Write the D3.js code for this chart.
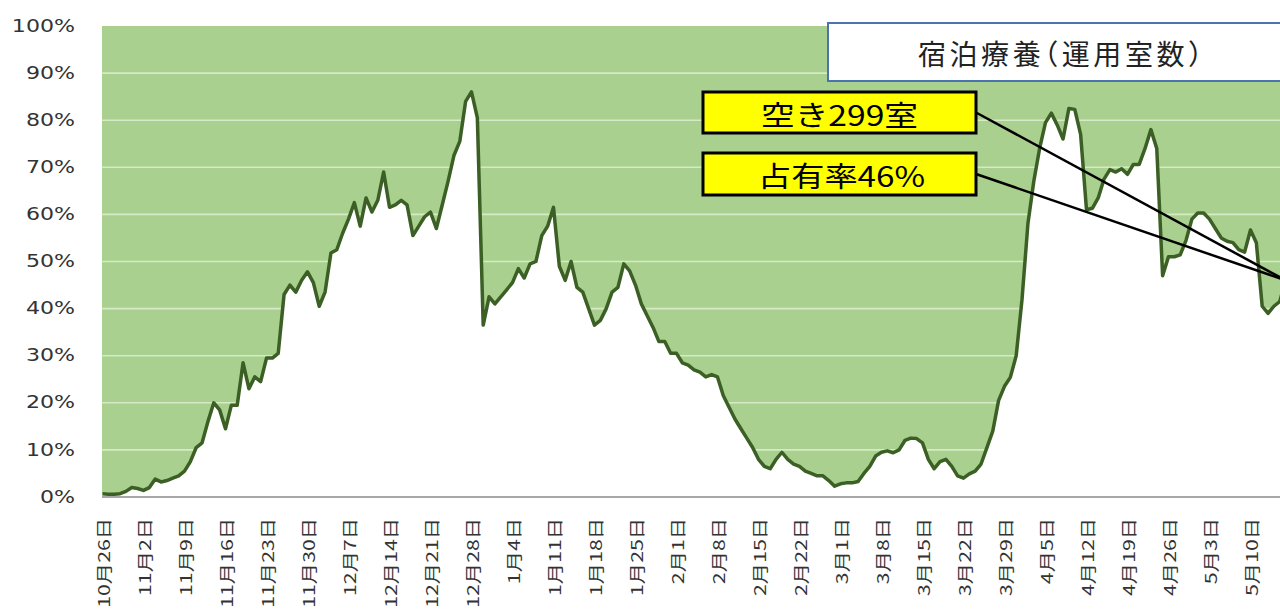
<!DOCTYPE html>
<html>
<head>
<meta charset="utf-8">
<script src="https://cdn.jsdelivr.net/npm/d3@7"></script>
<style>
body { margin:0; background:#fff; }
svg { display:block; }
</style>
</head>
<body>
<div id="drawing"></div>
<script>
"use strict"

/**** CONFIGURATION ****/

let svgWidth = 1280
let svgHeight = 615

let plotLeft = 102
let plotTop = 26
let plotBottom = 497
let dayWidth = 5.857


/**** DATA ****/

// daily occupancy (%) starting 2020-10-26
let startDate = new Date(2020, 9, 26)

let occupancy = [
0.7, 0.6, 0.6, 0.7, 1.2, 2.0, 1.8, 1.4, 2.0, 3.8,
3.2, 3.5, 4.0, 4.5, 5.5, 7.5, 10.5, 11.5, 16, 20,
18.5, 14.5, 19.5, 19.5, 28.5, 23, 25.5, 24.5, 29.5, 29.5,
30.5, 43, 45, 43.5, 46, 47.8, 45.5, 40.5, 43.5, 51.8,
52.5, 56, 59, 62.5, 57.5, 63.5, 60.5, 63, 69, 61.5,
62, 63, 62, 55.5, 57.5, 59.5, 60.5, 57, 62, 67,
72.5, 75.5, 84, 86, 80.5, 36.5, 42.5, 41, 42.5, 44,
45.5, 48.5, 46.5, 49.5, 50, 55.5, 57.5, 61.5, 49, 46,
50, 44.5, 43.5, 40, 36.5, 37.5, 40, 43.5, 44.5, 49.5,
48, 45, 41, 38.5, 36, 33, 33, 30.5, 30.5, 28.5,
28, 27, 26.5, 25.5, 26, 25.5, 21.5, 19, 16.5, 14.5,
12.5, 10.5, 8, 6.5, 6, 8, 9.5, 8, 7, 6.5,
5.5, 5, 4.5, 4.5, 3.5, 2.3, 2.8, 3, 3, 3.3,
5, 6.5, 8.7, 9.5, 9.8, 9.4, 10, 12, 12.5, 12.4,
11.5, 8, 6, 7.5, 8, 6.5, 4.5, 4, 4.9, 5.5,
7, 10.5, 14, 20.5, 23.5, 25.4, 30, 42, 58, 67,
74, 79.5, 81.5, 79, 76, 82.5, 82.3, 77, 61, 61.3,
63.5, 67.5, 69.5, 69, 69.7, 68.5, 70.6, 70.6, 74, 78,
74, 47, 51, 51, 51.4, 54.5, 59, 60.3, 60.3, 59,
57, 55, 54.3, 54, 52.5, 52, 56.7, 54, 40.5, 39,
40.5, 41.5, 46
]

let xTickLabels = [
"10月26日","11月2日","11月9日","11月16日","11月23日","11月30日",
"12月7日","12月14日","12月21日","12月28日","1月4日","1月11日",
"1月18日","1月25日","2月1日","2月8日","2月15日","2月22日",
"3月1日","3月8日","3月15日","3月22日","3月29日","4月5日",
"4月12日","4月19日","4月26日","5月3日","5月10日"
]

let yTicks = [0,10,20,30,40,50,60,70,80,90,100]

let titleText = "宿泊療養（運用室数）"
let vacantText = "空き299室"
let rateText = "占有率46%"

let dataset = occupancy.map(function(v,i){
return {date:d3.timeDay.offset(startDate,i), value:v}
})


/**** CANVAS SETUP ****/

let svg = d3.select("#drawing")
.append("svg")
.attr("width",svgWidth)
.attr("height",svgHeight)


/**** SCALES ****/

let lastDate = dataset[dataset.length-1].date

let xScale = d3.scaleTime()
.domain([startDate,lastDate])
.range([plotLeft+0.5, plotLeft+0.5+dayWidth*(dataset.length-1)])

let yScale = d3.scaleLinear()
.domain([0,100])
.range([plotBottom,plotTop])


/**** PLOT BACKGROUND (vacant share) ****/

svg.append("rect")
.attr("x",plotLeft)
.attr("y",yScale(100))
.attr("width",svgWidth-plotLeft+20)
.attr("height",yScale(0)-yScale(100))
.attr("fill","#a9d08e")

svg.selectAll("line.grid")
.data(yTicks.filter(d=>d>0 && d<100))
.join("line")
.classed("grid",true)
.attr("x1",plotLeft)
.attr("x2",svgWidth)
.attr("y1",d=>yScale(d))
.attr("y2",d=>yScale(d))
.attr("stroke","#d6eac6")
.attr("stroke-width",1.6)


/**** OCCUPIED AREA AND LINE ****/

let area = d3.area()
.x(d=>xScale(d.date))
.y0(yScale(0))
.y1(d=>yScale(d.value))

svg.append("path")
.datum(dataset)
.attr("d",area)
.attr("fill","#ffffff")

let line = d3.line()
.x(d=>xScale(d.date))
.y(d=>yScale(d.value))

svg.append("path")
.datum(dataset)
.attr("d",line)
.attr("fill","none")
.attr("stroke","#3b5f25")
.attr("stroke-width",3.5)
.attr("stroke-linejoin","round")

svg.append("line")
.attr("x1",plotLeft)
.attr("x2",svgWidth)
.attr("y1",yScale(0))
.attr("y2",yScale(0))
.attr("stroke","#8a8a8a")
.attr("stroke-width",1.5)


/**** Y AXIS VALUES ****/

svg.selectAll("text.ytick")
.data(yTicks)
.join("text")
.classed("ytick",true)
.attr("transform",d=>"translate(75," + yScale(d) + ") scale(1.3,1)")
.attr("text-anchor","end")
.attr("dominant-baseline","central")
.style("font-family","DejaVu Sans")
.style("font-size","17px")
.attr("fill","#333")
.text(d=>d + "%")


/**** X AXIS VALUES ****/

svg.selectAll("text.xtick")
.data(xTickLabels)
.join("text")
.classed("xtick",true)
.attr("transform",(d,i)=>"translate(" + xScale(d3.timeDay.offset(startDate,i*7)) + ",518) rotate(-90) scale(1.33,1)")
.attr("text-anchor","end")
.attr("dominant-baseline","central")
.style("font-family","'Noto Sans CJK JP'")
.style("font-size","16px")
.attr("fill","#333")
.text(d=>d)


/**** TITLE BOX ****/

svg.append("rect")
.attr("x",828)
.attr("y",23)
.attr("width",500)
.attr("height",58)
.attr("fill","#ffffff")
.attr("stroke","#4a74b0")
.attr("stroke-width",2)

svg.append("text")
.attr("x",918)
.attr("y",53)
.attr("textLength",284)
.attr("lengthAdjust","spacing")
.attr("dominant-baseline","central")
.style("font-family","'Noto Sans CJK JP'")
.style("font-feature-settings","'halt' 1")
.style("font-size","28px")
.attr("fill","#222")
.text(titleText)


/**** CALLOUTS ****/

let lastPoint = dataset[dataset.length-1]
let endX = xScale(lastPoint.date)
let endY = yScale(lastPoint.value)

let callouts = [
{text:vacantText, y:92, h:41, tx:761, len:157},
{text:rateText, y:153, h:42, tx:758, len:167}
]

svg.selectAll("line.leader")
.data(callouts)
.join("line")
.classed("leader",true)
.attr("x1",976)
.attr("y1",d=>d.y+d.h/2)
.attr("x2",endX)
.attr("y2",endY)
.attr("stroke","#000")
.attr("stroke-width",2.5)

let boxes = svg.selectAll("g.callout")
.data(callouts)
.join("g")
.classed("callout",true)

boxes.append("rect")
.attr("x",703)
.attr("y",d=>d.y)
.attr("width",273)
.attr("height",d=>d.h)
.attr("fill","#ffff00")
.attr("stroke","#000")
.attr("stroke-width",3)

boxes.append("text")
.attr("x",d=>d.tx)
.attr("y",d=>d.y+d.h/2+1)
.attr("textLength",d=>d.len)
.attr("lengthAdjust","spacingAndGlyphs")
.attr("dominant-baseline","central")
.style("font-family","'Noto Sans CJK JP'")
.style("font-size","28px")
.attr("fill","#000")
.text(d=>d.text)
</script>
</body>
</html>
